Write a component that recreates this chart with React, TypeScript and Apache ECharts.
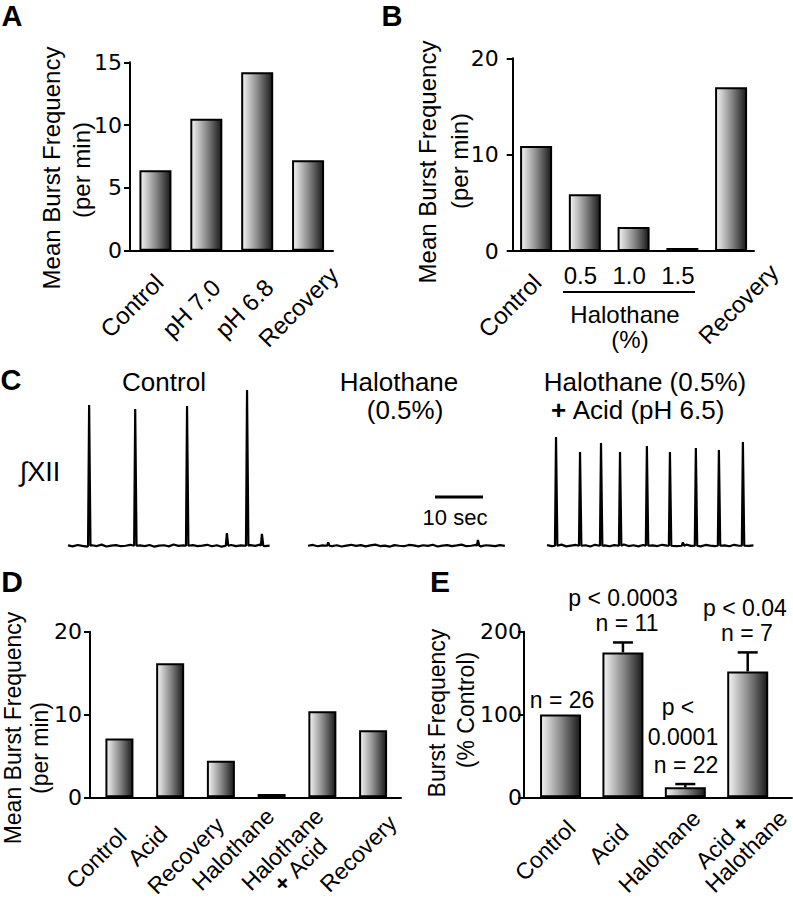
import React, { useEffect, useRef } from 'react';
import * as echarts from 'echarts';

// ---------- data ----------
const catsA = ['Control', 'pH 7.0', 'pH 6.8', 'Recovery'];
const valsA = [6.4, 10.5, 14.2, 7.2];

const catsB = ['Control', '0.5', '1.0', '1.5', 'Recovery'];
const valsB = [10.9, 5.9, 2.5, 0.3, 17.0];

const catsD = ['Control', 'Acid', 'Recovery', 'Halothane', 'Halothane\n+ Acid', 'Recovery'];
const valsD = [7.1, 16.2, 4.4, 0.4, 10.4, 8.1];

const catsE = ['Control', 'Acid', 'Halothane', 'Acid +\nHalothane'];
const valsE = [100, 175, 12, 152];
const errTopE = [null, 187, 16, 175];

// Panel C traces (time in s, amplitude normalised)
const ctrlStart = 0;
const ctrlNoise = [0.010, 0.004, 0.013, 0.007, 0.002, 0.011, 0.006, 0.015, 0.003, 0.009, 0.012, 0.005, 0.008, 0.014, 0.004, 0.010, 0.006, 0.013, 0.002, 0.009, 0.011, 0.004, 0.016, 0.007, 0.010, 0.003, 0.012, 0.006, 0.009, 0.014, 0.005, 0.011, 0.002, 0.008, 0.013, 0.006, 0.010, 0.004, 0.012, 0.007, 0.015, 0.005, 0.009];
const ctrlSpikes = [[4.4, 0.904], [14.0, 0.879], [24.8, 0.898], [33.1, 0.089], [37.3, 1.0], [40.4, 0.083]];

const halStart = 50;
const halNoise = [0.008, 0.013, 0.005, 0.010, 0.020, 0.006, 0.011, 0.003, 0.009, 0.014, 0.007, 0.012, 0.004, 0.010, 0.015, 0.006, 0.009, 0.002, 0.012, 0.008, 0.005, 0.013, 0.010, 0.004, 0.011, 0.007, 0.014, 0.003, 0.009, 0.012, 0.006, 0.010, 0.015, 0.005, 0.008, 0.013, 0.004, 0.011, 0.009, 0.006, 0.012, 0.007];
const halSpikes = [[54.2, 0.03], [85.4, 0.045]];

const acidStart = 99.8;
const acidNoise = [0.012, 0.006, 0.010, 0.015, 0.004, 0.009, 0.013, 0.007, 0.011, 0.003, 0.014, 0.008, 0.010, 0.005, 0.012, 0.009, 0.016, 0.006, 0.011, 0.004, 0.013, 0.008, 0.010, 0.006, 0.014, 0.009, 0.012, 0.005, 0.010, 0.015, 0.007, 0.011, 0.004, 0.013, 0.009, 0.006, 0.012, 0.010, 0.005, 0.014, 0.008, 0.011, 0.007, 0.010];
const acidSpikes = [[101.67, 0.70], [106.67, 0.605], [111.04, 0.662], [115.0, 0.605], [120.6, 0.643], [125.4, 0.605], [128.1, 0.03], [130.8, 0.631], [135.6, 0.618], [140.6, 0.669]];

const scaleBarSec = [76.46, 86.46];
const scaleBarLevel = 0.318;

// ---------- layout / style ----------
const SANS = '"Liberation Sans", Arial, Helvetica, sans-serif';
const TICKF = '"DejaVu Sans", sans-serif';

const PANELS = {
  A: { left: 130, top: 62.3, width: 203, height: 188.4, min: -0.5, max: 3.49 },
  B: { left: 512.7, top: 58.3, width: 241.3, height: 192.7, min: -0.48, max: 4.47 },
  D: { left: 90, top: 631.7, width: 311, height: 165.6, min: -0.58, max: 5.55 },
  E: { left: 524, top: 631.7, width: 268, height: 165.6, min: -0.586, max: 3.71 },
};

// label placement per category: [pixel shift along x, margin, rotate, fontSize]
const labelStyleA = [[3.7, 27.6, 45, 24], [9.8, 32.6, 45, 24], [11.9, 32.6, 45, 24], [26, 20.4, 45, 24]];
const labelStyleB = [[1, 27.3, 45, 24], [-4.5, 12, 0, 24], [-4.5, 12, 0, 24], [-4.5, 12, 0, 24], [43, 17.1, 45, 24]];
const labelStyleD = [[3, 35, 45, 23], [-7, 33, 45, 23], [-1, 24, 45, 23], [-1.6, 15, 45, 23], [[-3, 15], [0.6, 45]], [19.3, 22, 45, 23]];
const labelStyleE = [[10.8, 26.8, 45, 23], [1.4, 30.8, 45, 23], [11, 17, 45, 23], [[-2.7, 21.7], [35.5, 17]]];

function buildTrace(start: number, noise: number[], spikes: number[][]) {
  const pts: number[][] = [];
  noise.forEach((v, i) => {
    const t = start + i;
    const near = spikes.some(([s]) => t > s - 0.35 && t < s + 0.45);
    if (!near) pts.push([t, v]);
  });
  spikes.forEach(([s, h]) => {
    pts.push([s - 0.22, 0.008], [s, h], [s + 0.28, 0.008]);
  });
  pts.sort((a, b) => a[0] - b[0]);
  return pts;
}

const barGrad = {
  type: 'linear', x: 0, y: 0, x2: 1, y2: 0,
  colorStops: [
    { offset: 0, color: '#f4f4f4' },
    { offset: 0.5, color: '#8c8c8c' },
    { offset: 1, color: '#1a1a1a' },
  ],
};

function yAxisCfg(grid: number, max: number, interval: number, margin: number) {
  return {
    type: 'value', gridIndex: grid, min: 0, max, interval,
    axisLine: { show: true, onZero: false, lineStyle: { color: '#000', width: 2 } },
    axisTick: { show: true, length: 6, lineStyle: { color: '#000', width: 2 } },
    axisLabel: { color: '#000', fontFamily: TICKF, fontSize: 22, margin },
    splitLine: { show: false },
  };
}

function mainX(grid: number, p: any) {
  return {
    type: 'value', gridIndex: grid, min: p.min, max: p.max, position: 'bottom',
    axisLine: { show: true, onZero: false, lineStyle: { color: '#000', width: 2 } },
    axisTick: { show: false }, splitLine: { show: false }, axisLabel: { show: false },
  };
}

const EXT = 250;
function helperGrid(p: any) {
  return { left: p.left, top: p.top, width: p.width + EXT, height: p.height, containLabel: false, outerBoundsMode: 'none' };
}

function labelAxes(helper: number, p: any, cats: string[], styles: any[]) {
  const ppu = p.width / (p.max - p.min);
  const maxExt = p.max + EXT / ppu;
  const axes: any[] = [];
  const mk = (text: string, value: number, margin: number, rotate: number, fontSize: number) => ({
    type: 'value', gridIndex: helper, min: p.min, max: maxExt, position: 'bottom',
    axisLine: { show: false, onZero: false }, axisTick: { show: false }, splitLine: { show: false },
    axisLabel: {
      show: true, customValues: [value], formatter: () => text, rotate, margin,
      color: '#000', fontFamily: SANS, fontSize,
      rich: { b: { fontWeight: 'bold', fontFamily: SANS, fontSize, color: '#000' } },
    },
  });
  cats.forEach((c, i) => {
    const s = styles[i];
    if (Array.isArray(s[0])) {
      const lines = c.split('\n');
      lines.forEach((ln, k) => {
        const t = ln.replace('+', '{b|+}');
        axes.push(mk(t, i + s[k][0] / ppu, s[k][1], 45, 23));
      });
    } else {
      axes.push(mk(c, i + s[0] / ppu, s[1], s[2], s[3]));
    }
  });
  return axes;
}

function barSeries(xi: number, yi: number, vals: number[], width: number) {
  return {
    type: 'bar', xAxisIndex: xi, yAxisIndex: yi, barWidth: width,
    data: vals.map((v, i) => [i, v]),
    itemStyle: { color: barGrad, borderColor: '#000', borderWidth: 2 },
  };
}

function txt(text: string, x: number, y: number, size: number, extra: any = {}) {
  return {
    type: 'text', x, y, rotation: extra.rotation || 0,
    style: {
      text, fill: '#000', fontFamily: SANS, fontSize: size, fontWeight: extra.bold ? 'bold' : 'normal',
      align: 'center', verticalAlign: 'middle', rich: extra.rich,
    },
  };
}

export default function App() {
  const ref = useRef<HTMLDivElement>(null);
  useEffect(() => {
    if (!ref.current) return;
    const chart = echarts.init(ref.current, null, { renderer: 'svg' });
    const R = Math.PI / 2;
    const richB = { b: { fontWeight: 'bold', fontSize: 26, fontFamily: SANS, fill: '#000' } };
    const gridBase = (p: any) => ({ left: p.left, top: p.top, width: p.width, height: p.height, containLabel: false, outerBoundsMode: 'none' });

    const xAxis: any[] = [
      mainX(0, PANELS.A),
      mainX(1, PANELS.B),
      { type: 'value', gridIndex: 2, min: 0, max: 143.33, show: false },
      mainX(3, PANELS.D),
      mainX(4, PANELS.E),
      ...labelAxes(5, PANELS.A, catsA, labelStyleA),
      ...labelAxes(6, PANELS.B, catsB, labelStyleB),
      ...labelAxes(7, PANELS.D, catsD, labelStyleD),
      ...labelAxes(8, PANELS.E, catsE, labelStyleE),
    ];

    const option: any = {
      animation: false,
      backgroundColor: '#fff',
      grid: [
        gridBase(PANELS.A),
        gridBase(PANELS.B),
        { left: 68, top: 390, width: 688, height: 157, containLabel: false, outerBoundsMode: 'none' },
        gridBase(PANELS.D),
        gridBase(PANELS.E),
        helperGrid(PANELS.A),
        helperGrid(PANELS.B),
        helperGrid(PANELS.D),
        helperGrid(PANELS.E),
      ],
      xAxis,
      yAxis: [
        yAxisCfg(0, 15, 5, 8),
        yAxisCfg(1, 20, 10, 14),
        { type: 'value', gridIndex: 2, min: 0, max: 1, show: false },
        yAxisCfg(3, 20, 10, 8),
        yAxisCfg(4, 200, 100, 2),
        { type: 'value', gridIndex: 5, show: false },
        { type: 'value', gridIndex: 6, show: false },
        { type: 'value', gridIndex: 7, show: false },
        { type: 'value', gridIndex: 8, show: false },
      ],
      series: [
        barSeries(0, 0, valsA, 32),
        barSeries(1, 1, valsB, 32),
        barSeries(3, 3, valsD, 28),
        barSeries(4, 4, valsE, 41),
        {
          type: 'custom', xAxisIndex: 4, yAxisIndex: 4, z: 5,
          data: errTopE.map((e, i) => [i, valsE[i], e]).filter((d) => d[2] != null),
          renderItem: (params: any, api: any) => {
            const p0 = api.coord([api.value(0), api.value(1)]);
            const p1 = api.coord([api.value(0), api.value(2)]);
            const st = { stroke: '#000', lineWidth: 2.5 };
            return {
              type: 'group',
              children: [
                { type: 'line', shape: { x1: p0[0], y1: p0[1], x2: p1[0], y2: p1[1] }, style: st },
                { type: 'line', shape: { x1: p1[0] - 10, y1: p1[1], x2: p1[0] + 10, y2: p1[1] }, style: st },
              ],
            };
          },
        },
        ...[
          buildTrace(ctrlStart, ctrlNoise, ctrlSpikes),
          buildTrace(halStart, halNoise, halSpikes),
          buildTrace(acidStart, acidNoise, acidSpikes),
        ].map((d) => ({
          type: 'line', xAxisIndex: 2, yAxisIndex: 2, data: d, showSymbol: false, symbol: 'none',
          lineStyle: { color: '#000', width: 2.2 },
        })),
        {
          type: 'line', xAxisIndex: 2, yAxisIndex: 2, symbol: 'none',
          data: scaleBarSec.map((t) => [t, scaleBarLevel]),
          lineStyle: { color: '#000', width: 3 },
        },
      ],
      graphic: [
        txt('A', 12, 15.5, 29, { bold: true }),
        txt('B', 392, 15.5, 29, { bold: true }),
        txt('C', 11, 380, 29, { bold: true }),
        txt('D', 12, 581, 30, { bold: true }),
        txt('E', 440, 581, 30, { bold: true }),
        txt('Mean Burst Frequency', 51, 168, 24, { rotation: R }),
        txt('(per min)', 81, 170, 24, { rotation: R }),
        txt('Mean Burst Frequency', 427, 162, 24, { rotation: R }),
        txt('(per min)', 459, 161, 24, { rotation: R }),
        txt('Mean Burst Frequency', 13, 728, 23, { rotation: R }),
        txt('(per min)', 40, 748, 23, { rotation: R }),
        txt('Burst Frequency', 437, 713, 23, { rotation: R }),
        txt('(% Control)', 466, 710, 23, { rotation: R }),
        { type: 'line', shape: { x1: 563, y1: 292, x2: 695, y2: 292 }, style: { stroke: '#000', lineWidth: 2 } },
        txt('Halothane', 625, 314, 24),
        txt('(%)', 630, 339, 24),
        txt('Control', 164, 382, 26),
        txt('Halothane', 399, 382, 26),
        txt('(0.5%)', 405, 410, 26),
        txt('Halothane (0.5%)', 645, 382, 26),
        txt('{b|+} Acid (pH 6.5)', 638, 410, 26, { rich: richB }),
        txt('∫XII', 40, 472, 27),
        txt('10 sec', 455, 517, 22),
        txt('n = 26', 562, 700, 23),
        txt('p < 0.0003', 623, 598, 23),
        txt('n = 11', 627, 623, 23),
        txt('p <', 678, 707, 23),
        txt('0.0001', 683, 737, 23),
        txt('n = 22', 686, 765, 23),
        txt('p < 0.04', 745, 608, 23),
        txt('n = 7', 747, 633, 23),
      ],
    };
    chart.setOption(option);
    return () => chart.dispose();
  }, []);
  return <div ref={ref} style={{ position: 'absolute', left: 0, top: 0, width: 793, height: 900 }} />;
}
